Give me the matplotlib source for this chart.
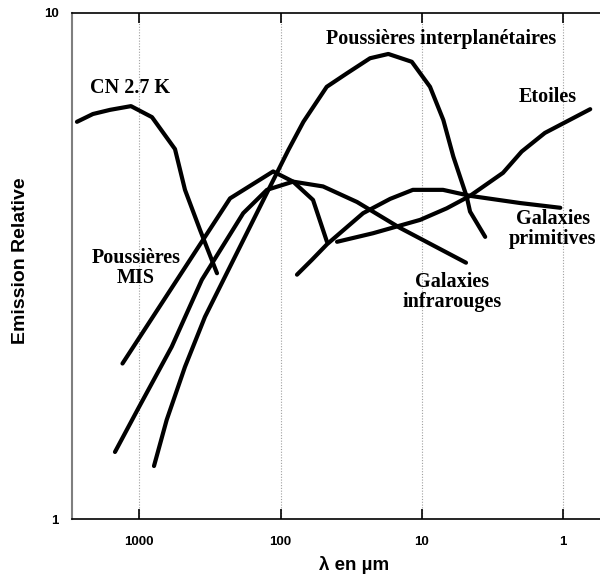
import matplotlib
matplotlib.use("Agg")
import matplotlib.pyplot as plt
from matplotlib.ticker import FixedLocator, FixedFormatter, NullLocator

# ---- data (wavelength in micron, relative emission) ----
cn_lam = [2761, 2128, 1611, 1145, 813, 559, 475, 371, 282]
cn_em = [6.09, 6.31, 6.43, 6.54, 6.22, 5.38, 4.47, 3.72, 3.06]

mis_lam = [1315, 228, 113, 81.6, 59.0, 47.0]
mis_em = [2.03, 4.30, 4.86, 4.64, 4.27, 3.53]

girs_lam = [1486, 1016, 590, 361, 184, 125, 81.6, 50.1, 28.8, 14.3, 4.88]
girs_em = [1.358, 1.656, 2.19, 2.97, 4.02, 4.47, 4.64, 4.54, 4.23, 3.76, 3.21]

zodi_lam = [787, 640, 475, 343, 216, 140, 88.1, 69.0, 47.2, 34.0, 23.3, 17.3,
            11.8, 8.77, 7.06, 6.00, 4.82, 4.57, 3.57]
zodi_em = [1.274, 1.571, 2.00, 2.51, 3.25, 4.14, 5.36, 6.09, 7.14, 7.59, 8.13, 8.29,
           8.00, 7.14, 6.14, 5.20, 4.33, 4.05, 3.61]

star_lam = [39.9, 22.2, 10.3, 6.68, 4.57, 2.67, 1.97, 1.35, 0.645]
star_em = [3.53, 3.67, 3.90, 4.11, 4.35, 4.83, 5.32, 5.79, 6.45]

gprim_lam = [76.6, 60.2, 47.0, 26.1, 16.8, 11.6, 7.10, 4.57, 2.02, 1.05]
gprim_em = [3.04, 3.25, 3.49, 4.02, 4.29, 4.47, 4.47, 4.35, 4.21, 4.12]

xticks = [1000, 100, 10, 1]
xtick_labels = ["1000", "100", "10", "1"]
yticks = [1, 10]
ytick_labels = ["1", "10"]

labels = ["CN 2.7 K", "Poussières interplanétaires", "Etoiles",
          "Galaxies\nprimitives", "Galaxies\ninfrarouges", "Poussières\nMIS"]

# ---- figure ----
fig = plt.figure(figsize=(6.0, 5.8), dpi=100)
ax = fig.add_axes([72/600, 1-519.3/580, 528/600, 506.6/580])

lw = 3.0
for lam, em in [(cn_lam, cn_em), (mis_lam, mis_em), (girs_lam, girs_em),
                (zodi_lam, zodi_em), (star_lam, star_em), (gprim_lam, gprim_em)]:
    ax.plot(lam, em, color="black", lw=lw, solid_joinstyle="round",
            solid_capstyle="round", zorder=3)

ax.set_xscale("log")
ax.set_yscale("log")
ax.set_xlim(2993, 0.55)
ax.set_ylim(1, 10)

ax.xaxis.set_major_locator(FixedLocator(xticks))
ax.xaxis.set_major_formatter(FixedFormatter(xtick_labels))
ax.xaxis.set_minor_locator(NullLocator())
ax.yaxis.set_major_locator(FixedLocator(yticks))
ax.yaxis.set_major_formatter(FixedFormatter(ytick_labels))
ax.yaxis.set_minor_locator(NullLocator())

for lab in ax.get_xticklabels() + ax.get_yticklabels():
    lab.set_fontfamily("Liberation Sans")
    lab.set_fontweight("bold")
    lab.set_fontsize(9.5)

ax.tick_params(axis="x", which="major", direction="in", length=7, width=1.2,
               top=True, bottom=True, pad=12, colors="black")
ax.tick_params(axis="y", which="major", length=0, pad=9.5)

ax.grid(axis="x", which="major", linestyle=(0, (1, 1.5)), color="#a0a0a0", lw=0.8)
ax.grid(axis="y", visible=False)

ax.spines["right"].set_visible(False)
ax.spines["left"].set_color("#7f7f7f")
ax.spines["left"].set_linewidth(1.5)
ax.spines["top"].set_linewidth(1.2)
ax.spines["bottom"].set_linewidth(1.2)

ax.set_xlabel("λ en µm", family="Liberation Sans", weight="bold", fontsize=13.5)
ax.xaxis.set_label_coords((354-72)/528, (519.3-556)/506.6)
ax.set_ylabel("Emission Relative", family="Liberation Sans", weight="bold", fontsize=14)
ax.yaxis.set_label_coords((29-72)/528, 0.51)

serif = dict(family="Liberation Serif", weight="bold", fontsize=14.5,
             transform=ax.transAxes, linespacing=0.95)
pos = [((90-72)/528, (519.3-88)/506.6, "left"),
       ((441-72)/528, (519.3-39)/506.6, "center"),
       ((548-72)/528, (519.3-97)/506.6, "center"),
       ((553-72)/528, (519.3-229)/506.6, "center"),
       ((452-72)/528, (519.3-292)/506.6, "center"),
       ((136-72)/528, (519.3-268)/506.6, "center")]
for (x, y, ha), t in zip(pos, labels):
    ax.text(x, y, t, ha=ha, va="center", multialignment="center", **serif)

fig.savefig("out.png", dpi=100)
